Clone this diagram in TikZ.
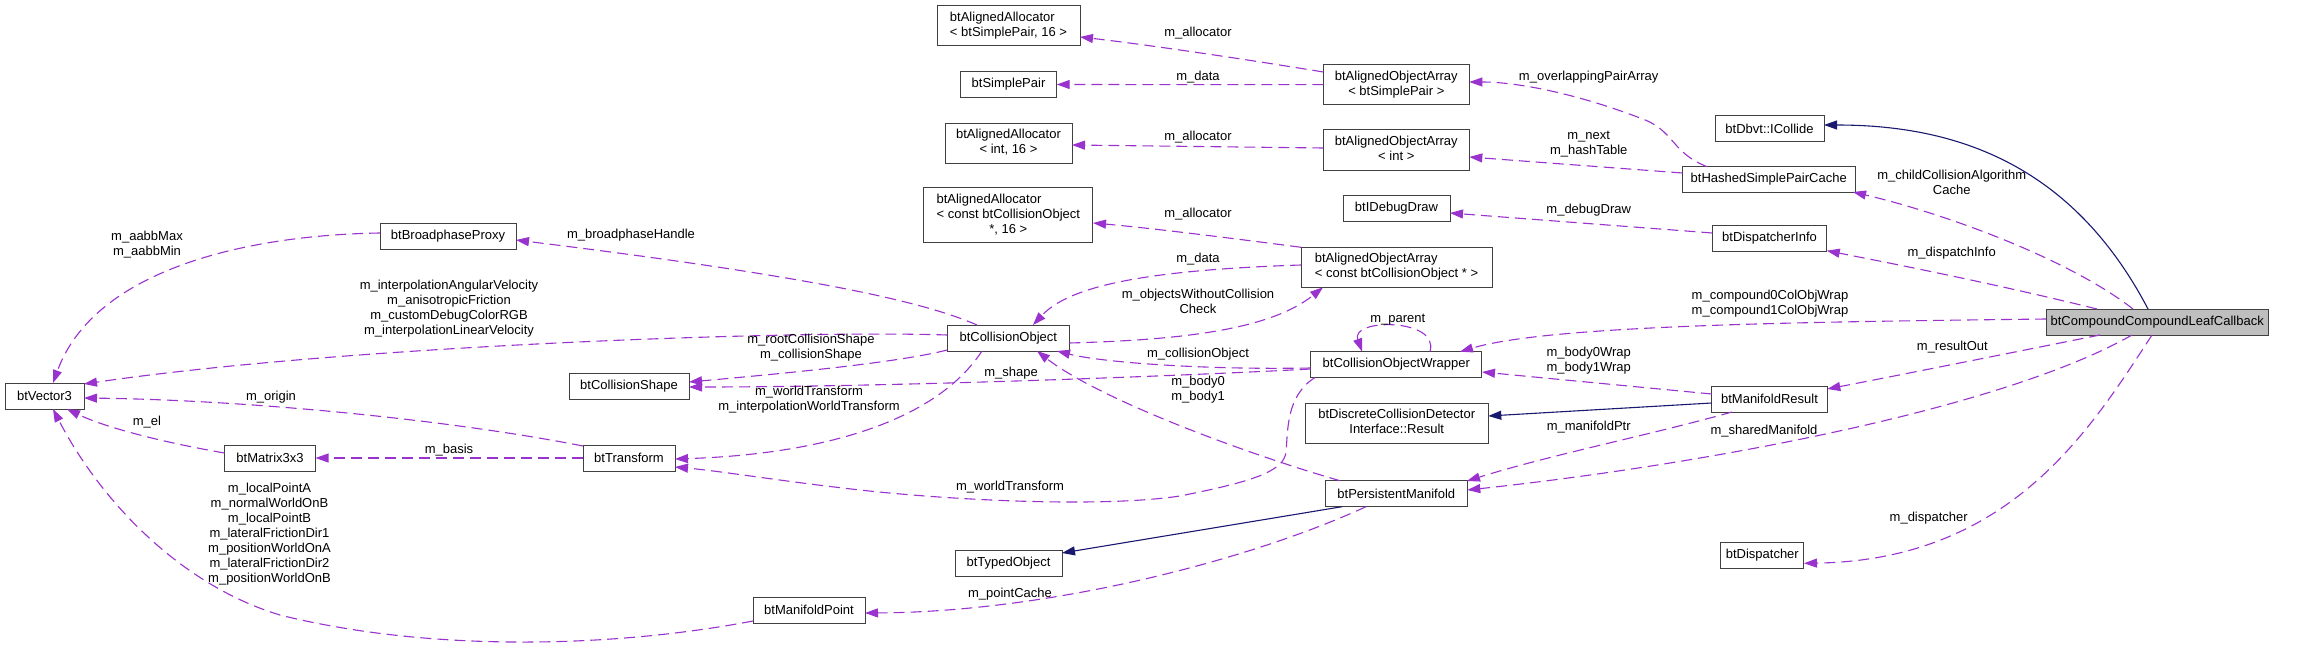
\documentclass[tikz,border=0pt]{standalone}
\usepackage{fontspec}
\setmainfont{Liberation Sans}
\usetikzlibrary{arrows.meta,calc}
\definecolor{edgepurple}{HTML}{9A32CD}
\definecolor{edgenavy}{HTML}{191970}
\definecolor{mainfill}{HTML}{BFBFBF}
\newcommand\lab{\fontsize{13}{15}\selectfont}
\newcommand\twoline[2]{\begin{tabular}{@{}l@{}}#1\\\multicolumn{1}{@{}c@{}}{#2}\end{tabular}}
\newcommand\threeline[3]{\begin{tabular}{@{}l@{}}#1\\#2\\\multicolumn{1}{@{}c@{}}{#3}\end{tabular}}
\begin{document}
\begin{tikzpicture}[x=1pt,y=-1pt,
  box/.style 2 args={draw=black!75, line width=1pt, inner sep=0pt, minimum width=#1pt, minimum height=#2pt, font=\lab},
  lbl/.style={font=\lab, align=center, inner sep=0pt},
  usage/.style={draw=edgepurple, line width=1.1pt, dash pattern=on 11pt off 6pt, -{Triangle[length=13pt,width=9pt]}},
  inherit/.style={draw=edgenavy, line width=1.1pt, -{Triangle[length=13pt,width=9pt]}},
]
\useasboundingbox[fill=white] (0,0) rectangle (2304,650);

% ---------- nodes ----------
\node[box={79}{26}] (vec) at (44.5,396) {btVector3};
\node[box={136}{26}] (bpp) at (448,236.5) {btBroadphaseProxy};
\node[box={120}{26}] (cshape) at (629,386) {btCollisionShape};
\node[box={92}{26}] (trans) at (629,458) {btTransform};
\node[box={112}{26}] (mpt) at (809,610) {btManifoldPoint};
\node[box={91}{26}] (mat) at (270,458) {btMatrix3x3};
\node[box={122}{26}] (cobj) at (1008.3,338) {btCollisionObject};
\node[box={169}{55}] (aacobj) at (1008.3,215.3) {\threeline{btAlignedAllocator}{< const btCollisionObject}{*, 16 >}};
\node[box={143}{40}] (aasp) at (1008.5,25.8) {\twoline{btAlignedAllocator}{< btSimplePair, 16 >}};
\node[box={96}{26}] (sp) at (1008.5,84.5) {btSimplePair};
\node[box={127}{40}] (aaint) at (1008.5,143.3) {\twoline{btAlignedAllocator}{< int, 16 >}};
\node[box={146}{40}] (aoasp) at (1396.3,84.7) {\twoline{btAlignedObjectArray}{< btSimplePair >}};
\node[box={146}{40}] (aoaint) at (1396.3,150) {\twoline{btAlignedObjectArray}{< int >}};
\node[box={107}{26}] (dd) at (1396.5,208.5) {btIDebugDraw};
\node[box={191}{40}] (aoacobj) at (1396.5,267.3) {\twoline{btAlignedObjectArray}{< const btCollisionObject * >}};
\node[box={171.3}{26}] (cow) at (1396.3,364.5) {btCollisionObjectWrapper};
\node[box={183.3}{40}] (dres) at (1396.7,423.3) {\twoline{btDiscreteCollisionDetector}{Interface::Result}};
\node[box={142}{26}] (pm) at (1396.3,493.7) {btPersistentManifold};
\node[box={107}{26}] (typed) at (1008.5,563.3) {btTypedObject};
\node[box={109}{26}] (icol) at (1769.5,128.5) {btDbvt::ICollide};
\node[box={172.7}{26}] (hspc) at (1768.7,179.2) {btHashedSimplePairCache};
\node[box={114.4}{26}] (dinfo) at (1769.5,238.2) {btDispatcherInfo};
\node[box={115.6}{26}] (mres) at (1769.5,399) {btManifoldResult};
\node[box={83.3}{26}] (disp) at (1762.3,555.5) {btDispatcher};
\node[box={222.3}{26}, fill=mainfill] (main) at (2157.2,322) {btCompoundCompoundLeafCallback};

% ---------- connectors ----------
\draw[usage] ($(bpp)+(-68,-3.5)$) .. controls (250,235) and (95,268) .. ($(vec)+(8.5,-13)$);
\draw[usage] ($(cobj)+(-61,-3)$) .. controls (800,330) and (350,345) .. ($(vec)+(39.5,-12)$);
\draw[usage] ($(trans)+(-46,-12)$) .. controls (450,420) and (250,400) .. ($(vec)+(39.5,2)$);
\draw[usage] ($(mat)+(-45.5,-5)$) .. controls (150,440) and (100,425) .. ($(vec)+(22.5,13)$);
\draw[usage] ($(mpt)+(-56,11)$) .. controls (600,650) and (420,650) .. (280,615) .. controls (180,585) and (100,500) .. ($(vec)+(8.5,13)$);
\draw[usage] ($(trans)+(-46,0)$) -- ($(mat)+(45.5,0)$);
\draw[usage] ($(cobj)+(-31.3,-13)$) .. controls (920,300) and (800,275) .. ($(bpp)+(68,3.5)$);
\draw[usage] ($(cobj)+(-61,12)$) .. controls (900,362) and (800,372) .. ($(cshape)+(60,-4)$);
\draw[usage] ($(cow)+(-85.6,4.5)$) .. controls (1200,375) and (900,387) .. ($(cshape)+(60,1)$);
\draw[usage] ($(cobj)+(-26.3,13)$) .. controls (930,430) and (800,455) .. ($(trans)+(46,1)$);
\draw[usage] ($(cow)+(-81.3,13)$) .. controls (1286,396) and (1288,430) .. (1286,452) .. controls (1284,472) and (1250,482) .. (1180,496) .. controls (1100,508) and (950,500) .. (860,490) .. controls (780,481) and (720,471) .. ($(trans)+(46,9)$);
\draw[usage] ($(aoasp)+(-73,-12.7)$) .. controls (1250,60) and (1150,45) .. ($(aasp)+(71.5,11.2)$);
\draw[usage] ($(aoasp)+(-73,0)$) -- ($(sp)+(48.2,0)$);
\draw[usage] ($(aoaint)+(-73,-2)$) -- ($(aaint)+(63.5,1.7)$);
\draw[usage] ($(aoacobj)+(-95.5,-20)$) .. controls (1230,238) and (1150,228) .. ($(aacobj)+(84.7,7.7)$);
\draw[usage] ($(aoacobj)+(-95.5,-2.3)$) .. controls (1150,270) and (1070,285) .. ($(cobj)+(24.7,-13)$);
\draw[usage] ($(cobj)+(61,5)$) .. controls (1180,340) and (1270,330) .. ($(aoacobj)+(-73.5,20)$);
\draw[usage] ($(cow)+(-85.6,3.5)$) .. controls (1200,370) and (1100,362) .. ($(cobj)+(48.7,13)$);
\draw[usage] ($(pm)+(-56.3,-13)$) .. controls (1250,455) and (1100,400) .. ($(cobj)+(28.7,13)$);
\draw[usage] ($(cow)+(33.7,-13)$) .. controls (1440,318) and (1350,318) .. ($(cow)+(-34.3,-13)$);
\draw[usage] ($(hspc)+(-61.7,-12.5)$) .. controls (1670,152) and (1675,130) .. (1640,118) .. controls (1580,95) and (1520,82) .. ($(aoasp)+(73,-2.7)$);
\draw[usage] ($(hspc)+(-86.4,-6.2)$) -- ($(aoaint)+(73,7)$);
\draw[usage] ($(dinfo)+(-57.2,-5.2)$) -- ($(dd)+(53.5,4.5)$);
\draw[usage] ($(mres)+(-57.8,-5)$) -- ($(cow)+(85.7,7.5)$);
\draw[inherit] ($(mres)+(-57.8,4)$) -- ($(dres)+(91.6,-7.3)$);
\draw[usage] ($(mres)+(-37.5,13)$) .. controls (1650,435) and (1550,455) .. ($(pm)+(70.7,-12.7)$);
\draw[inherit] ($(pm)+(-54.3,13)$) -- ($(typed)+(53.5,-10.3)$);
\draw[usage] ($(pm)+(-30.3,13)$) .. controls (1250,560) and (1050,612) .. ($(mpt)+(56,3)$);
\draw[inherit] ($(main)+(-9.2,-13)$) .. controls (2070,160) and (1950,125) .. ($(icol)+(54.5,-3.5)$);
\draw[usage] ($(main)+(-24.2,-13)$) .. controls (2070,260) and (1950,215) .. ($(hspc)+(84.3,12.8)$);
\draw[usage] ($(main)+(-60.2,-13)$) .. controls (2000,285) and (1900,265) .. ($(dinfo)+(57.2,12.5)$);
\draw[usage] ($(main)+(-111.2,-3)$) .. controls (1800,322) and (1550,325) .. ($(cow)+(63.7,-12.8)$);
\draw[usage] ($(main)+(-57.2,13)$) .. controls (2000,355) and (1900,375) .. ($(mres)+(57.8,-10)$);
\draw[usage] ($(main)+(-25.2,13)$) .. controls (2000,410) and (1700,465) .. ($(pm)+(71,-3.7)$);
\draw[usage] ($(main)+(-5.2,13)$) .. controls (2090,430) and (2010,560) .. ($(disp)+(41.7,7.8)$);

% ---------- labels ----------
\node[lbl] (l1) at (147,245) {m\_aabbMax\\m\_aabbMin};
\node[lbl] (l2) at (449,309) {m\_interpolationAngularVelocity\\m\_anisotropicFriction\\m\_customDebugColorRGB\\m\_interpolationLinearVelocity};
\node[lbl] (l3) at (271,397) {m\_origin};
\node[lbl] (l4) at (147,422) {m\_el};
\node[lbl] (l5) at (269.5,534) {m\_localPointA\\m\_normalWorldOnB\\m\_localPointB\\m\_lateralFrictionDir1\\m\_positionWorldOnA\\m\_lateralFrictionDir2\\m\_positionWorldOnB};
\node[lbl] (l6) at (449,450) {m\_basis};
\node[lbl] (l7) at (631,235) {m\_broadphaseHandle};
\node[lbl] (l8) at (811,348) {m\_rootCollisionShape\\m\_collisionShape};
\node[lbl] (l9) at (1011,373) {m\_shape};
\node[lbl] (l10) at (809,400) {m\_worldTransform\\m\_interpolationWorldTransform};
\node[lbl] (l11) at (1010,487) {m\_worldTransform};
\node[lbl] (l12) at (1198,33) {m\_allocator};
\node[lbl] (l13) at (1198,77) {m\_data};
\node[lbl] (l14) at (1198,137) {m\_allocator};
\node[lbl] (l15) at (1198,214) {m\_allocator};
\node[lbl] (l16) at (1198,259) {m\_data};
\node[lbl] (l17) at (1198,301.7) {m\_objectsWithoutCollision\\Check};
\node[lbl] (l18) at (1198,354) {m\_collisionObject};
\node[lbl] (l19) at (1198,389.7) {m\_body0\\m\_body1};
\node[lbl] (l20) at (1397.7,319.3) {m\_parent};
\node[lbl] (l21) at (1588.7,76.7) {m\_overlappingPairArray};
\node[lbl] (l22) at (1588.7,144) {m\_next\\m\_hashTable};
\node[lbl] (l23) at (1588.7,209.7) {m\_debugDraw};
\node[lbl] (l24) at (1588.7,360.3) {m\_body0Wrap\\m\_body1Wrap};
\node[lbl] (l26) at (1588.7,426.7) {m\_manifoldPtr};
\node[lbl] (l28) at (1010,594.3) {m\_pointCache};
\node[lbl] (l30) at (1951.7,182) {m\_childCollisionAlgorithm\\Cache};
\node[lbl] (l31) at (1951.7,253.3) {m\_dispatchInfo};
\node[lbl] (l32) at (1770,303.7) {m\_compound0ColObjWrap\\m\_compound1ColObjWrap};
\node[lbl] (l33) at (1952.3,346.7) {m\_resultOut};
\node[lbl] (l34) at (1764,430.7) {m\_sharedManifold};
\node[lbl] (l35) at (1928.7,518.3) {m\_dispatcher};
\end{tikzpicture}
\end{document}
